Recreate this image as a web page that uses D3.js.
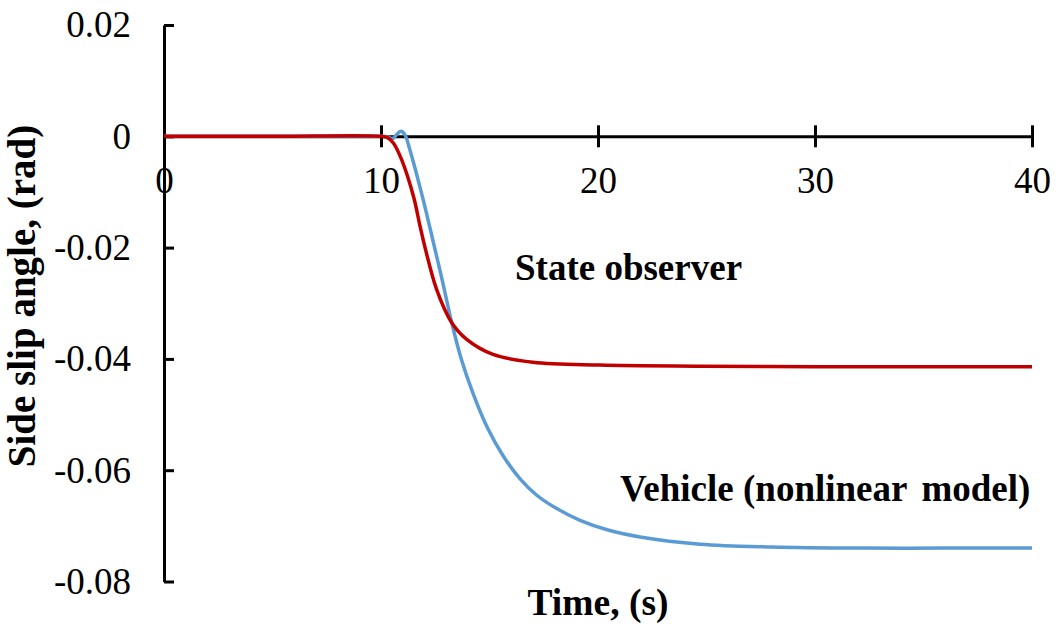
<!DOCTYPE html>
<html>
<head>
<meta charset="utf-8">
<script src="https://cdn.jsdelivr.net/npm/d3@7"></script>
<style>
  html, body { margin: 0; padding: 0; background: #fff; }
  svg { display: block; font-family: "Liberation Serif", "Times New Roman", serif; }
</style>
</head>
<body>
<svg id="chart" width="1059" height="629"></svg>
<script>
// Time (s) and side slip angle (rad) for the state observer
const observerTime = [0, 5, 10, 10.28, 10.57, 10.95, 11.51, 11.79, 12.03, 12.57, 13.26, 13.95, 15.16, 17.0, 20.09, 24.7, 30, 35, 40];
const observerSlip = [0, 0, 0, -0.0002, -0.0012, -0.0042, -0.0110, -0.0160, -0.0200, -0.0276, -0.0335, -0.0365, -0.0392, -0.0406, -0.0411, -0.0413, -0.0414, -0.0414, -0.0414];

// Time (s) and side slip angle (rad) for the vehicle (nonlinear model)
const vehicleTime = [0, 5, 10, 10.3, 10.55, 10.74, 10.92, 11.1, 11.3, 11.6, 11.97, 12.3, 12.8, 13.26, 13.72, 14.25, 14.87, 15.64, 16.4, 17.18, 18.1, 19.17, 20.5, 21.94, 24.7, 28, 32.07, 36, 40];
const vehicleSlip = [0, 0, 0, -0.0001, -0.0004, 0.0004, 0.0009, 0.0003, -0.0020, -0.0062, -0.0118, -0.0172, -0.0255, -0.0335, -0.0403, -0.0463, -0.0521, -0.0575, -0.0615, -0.0645, -0.0669, -0.0690, -0.0708, -0.0720, -0.0733, -0.0738, -0.0740, -0.0740, -0.0740];

const xTicks = [0, 10, 20, 30, 40];
const yTicks = [0.02, 0, -0.02, -0.04, -0.06, -0.08];
const yTickLabels = ["0.02", "0", "-0.02", "-0.04", "-0.06", "-0.08"];

const svg = d3.select("#chart");

const x = d3.scaleLinear().domain([0, 40]).range([164, 1032]);
const y = d3.scaleLinear().domain([-0.08, 0.02]).range([581.5, 25]);

const tickFont = 37;
const labelFont = 37;

// Y axis: inward ticks, labels on the left
const yAxis = d3.axisLeft(y)
  .tickValues(yTicks)
  .tickFormat((d, i) => yTickLabels[i])
  .tickSizeInner(-10)
  .tickSizeOuter(0)
  .tickPadding(33);

const gy = svg.append("g")
  .attr("transform", `translate(${x(0)},0)`)
  .call(yAxis);
gy.select(".domain").attr("stroke", "#000").attr("stroke-width", 3);
gy.selectAll(".tick line").attr("stroke", "#000").attr("stroke-width", 3);
gy.selectAll(".tick text")
  .attr("font-size", tickFont)
  .attr("font-family", "Liberation Serif, Times New Roman, serif")
  .attr("fill", "#000");

// X axis along zero slip, with ticks crossing the line
const xAxis = d3.axisBottom(x)
  .tickValues(xTicks)
  .tickFormat(d3.format("d"))
  .tickSizeInner(11)
  .tickSizeOuter(0)
  .tickPadding(0);

const gx = svg.append("g")
  .attr("transform", `translate(0,${y(0)})`)
  .call(xAxis);
gx.select(".domain").attr("stroke", "#000").attr("stroke-width", 3);
gx.selectAll(".tick line")
  .attr("stroke", "#000").attr("stroke-width", 3)
  .attr("y1", -11).attr("y2", 11);
gx.selectAll(".tick text")
  .attr("font-size", tickFont)
  .attr("font-family", "Liberation Serif, Times New Roman, serif")
  .attr("fill", "#000")
  .attr("y", 57)
  .attr("dy", 0);

// Curves
const line = d3.line()
  .x(d => x(d[0]))
  .y(d => y(d[1]))
  .curve(d3.curveCatmullRom.alpha(0.5));

const vehicle = vehicleTime.map((t, i) => [t, vehicleSlip[i]]);
const observer = observerTime.map((t, i) => [t, observerSlip[i]]);

svg.append("path")
  .datum(vehicle)
  .attr("fill", "none")
  .attr("stroke", "#5B9BD5")
  .attr("stroke-width", 3.5)
  .attr("stroke-linejoin", "round")
  .attr("d", line);

svg.append("path")
  .datum(observer)
  .attr("fill", "none")
  .attr("stroke", "#C00000")
  .attr("stroke-width", 3.5)
  .attr("stroke-linejoin", "round")
  .attr("d", line);

// Series labels
svg.append("text")
  .attr("x", 515).attr("y", 280)
  .attr("font-size", labelFont).attr("font-weight", "bold")
  .text("State observer");

const vehicleLabel = svg.append("text")
  .attr("x", 620).attr("y", 501)
  .attr("font-size", labelFont).attr("font-weight", "bold");
vehicleLabel.append("tspan").text("Vehicle (nonlinear");
vehicleLabel.append("tspan").attr("dx", 14).text("model)");

// Axis titles
svg.append("text")
  .attr("x", 598).attr("y", 615)
  .attr("text-anchor", "middle")
  .attr("font-size", 37.5).attr("font-weight", "bold")
  .text("Time, (s)");

svg.append("text")
  .attr("transform", "translate(35,296) rotate(-90)")
  .attr("text-anchor", "middle")
  .attr("font-size", 39).attr("font-weight", "bold")
  .text("Side slip angle, (rad)");
</script>
</body>
</html>
